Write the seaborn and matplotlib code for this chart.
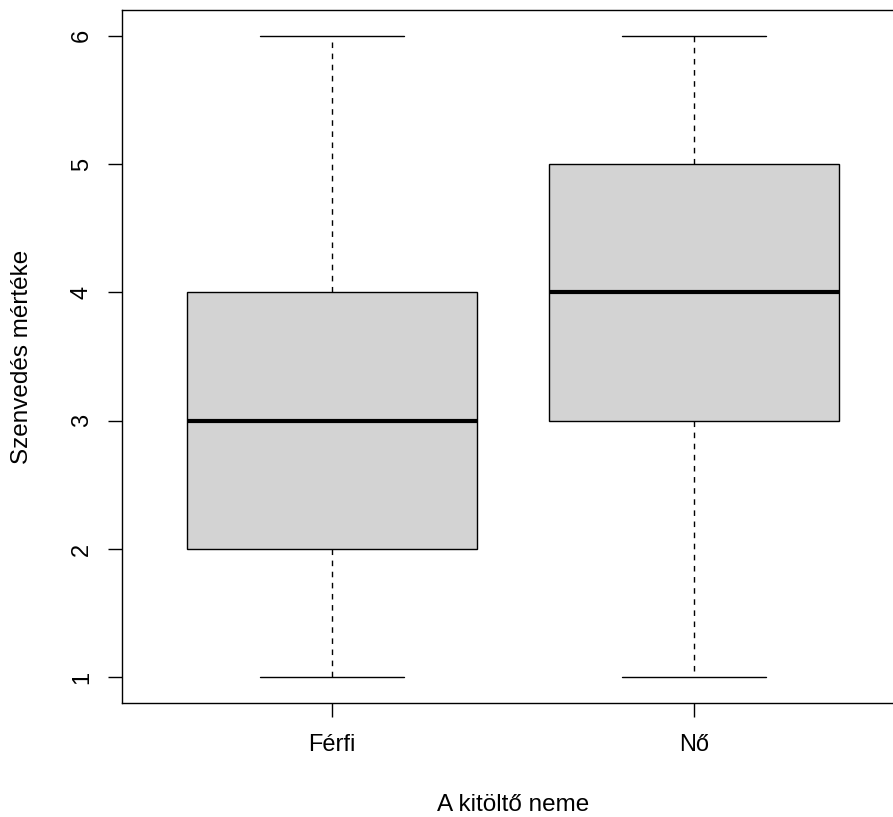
import matplotlib
matplotlib.use("Agg")
import matplotlib.pyplot as plt
import pandas as pd
import seaborn as sns

# raw answers per group (quartiles: Férfi 2/3/4, Nő 3/4/5, range 1..6)
ferfi = [1, 2, 2, 3, 3, 3, 4, 4, 6]
no = [1, 3, 3, 4, 4, 4, 5, 5, 6]
groups = ["Férfi", "Nő"]

df = pd.DataFrame({
    "nem": ["Férfi"] * len(ferfi) + ["Nő"] * len(no),
    "szenvedes": ferfi + no,
})

sns.set_style("white")
plt.rcParams["font.family"] = ["Liberation Sans", "DejaVu Sans"]
plt.rcParams["text.color"] = "black"
plt.rcParams["axes.labelcolor"] = "black"
plt.rcParams["xtick.color"] = "black"
plt.rcParams["ytick.color"] = "black"

fig = plt.figure(figsize=(8.93, 8.17), dpi=100)
ax = fig.add_axes([122 / 893, 114 / 817, 782 / 893, 693 / 817])

sns.boxplot(
    data=df, x="nem", y="szenvedes", order=groups, ax=ax,
    color="#D3D3D3", saturation=1, width=0.8, linecolor="black", linewidth=1.0,
    whis=1.5, capwidths=0.4,
    boxprops={"facecolor": "#D3D3D3", "edgecolor": "black"},
    whiskerprops={"linestyle": (0, (4, 4)), "color": "black"},
    capprops={"color": "black"},
    medianprops={"linewidth": 3, "color": "black"},
)

ax.set_xlim(-0.58, 1.58)
ax.set_ylim(0.8, 6.2)
ax.set_yticks([1, 2, 3, 4, 5, 6])
ax.set_yticklabels(["1", "2", "3", "4", "5", "6"], rotation=90, va="center")

for s in ax.spines.values():
    s.set_visible(True)
    s.set_color("black")
    s.set_linewidth(1.0)

ax.tick_params(axis="both", which="major", direction="out", length=10, width=1.0,
               colors="black", labelsize=17, pad=12, left=True, bottom=True)
ax.tick_params(axis="y", pad=11)

ax.set_xlabel("A kitöltő neme", fontsize=17.5)
ax.set_ylabel("Szenvedés mértéke", fontsize=17.5)
ax.xaxis.set_label_coords(0.5, -(805 - 703) / 693)
ax.yaxis.set_label_coords(-(122 - 22) / 782, 0.5)
ax.xaxis.label.set_va("center")
ax.yaxis.label.set_va("center")

fig.savefig("out.png", dpi=100)
